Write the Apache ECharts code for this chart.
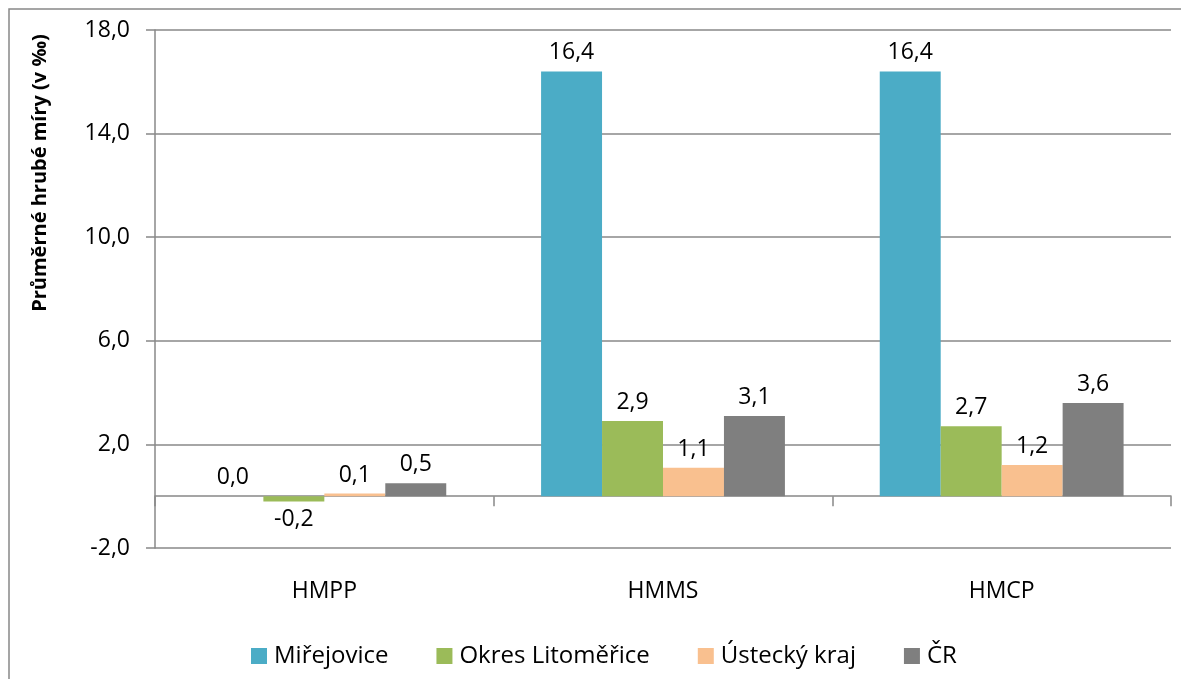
<!DOCTYPE html>
<html>
<head>
<meta charset="utf-8">
<script src="https://cdn.jsdelivr.net/npm/echarts@6/dist/echarts.min.js"></script>
<style>
  html, body { margin: 0; padding: 0; background: #fff; }
  #chart { width: 1181px; height: 679px; }
</style>
</head>
<body>
<div id="chart"></div>
<script>
// data
var categories = ['HMPP', 'HMMS', 'HMCP'];
var seriesNames = ['Miřejovice', 'Okres Litoměřice', 'Ústecký kraj', 'ČR'];
var mirejovice = [0.0, 16.4, 16.4];
var okres = [-0.2, 2.9, 2.7];
var ustecky = [0.1, 1.1, 1.2];
var cr = [0.5, 3.1, 3.6];
var yTicks = { min: -2, max: 18, interval: 4 };

var colors = ['#4BACC6', '#9BBB59', '#F9C08F', '#7F7F7F'];
var font = '"Open Sans", "Noto Sans", sans-serif';
var fs = 23;

function fmt(v) {
  return Number(v).toFixed(1).replace('.', ',');
}

// bar series, negative values get their label under the bar
function makeSeries(name, values, color) {
  return {
    name: name,
    type: 'bar',
    xAxisIndex: 0,
    barGap: '0%',
    barCategoryGap: '28%',
    itemStyle: { color: color },
    label: {
      show: true,
      position: 'top',
      distance: 7,
      color: '#000',
      fontFamily: font,
      fontSize: fs,
      formatter: function (p) { return fmt(p.value); }
    },
    data: values.map(function (v) {
      if (v < 0) {
        return { value: v, label: { position: 'bottom' } };
      }
      return v;
    })
  };
}

var chart = echarts.init(document.getElementById('chart'));
chart.setOption({
  animation: false,
  backgroundColor: '#fff',
  textStyle: { fontFamily: font },
  grid: { left: 155, right: 10, top: 30, bottom: 131 },
  legend: {
    left: 246,
    top: 639,
    icon: 'rect',
    itemWidth: 16,
    itemHeight: 16,
    itemGap: 48,
    textStyle: { fontSize: 24, color: '#000', fontFamily: font, padding: [0, 0, 0, 2] },
    data: seriesNames
  },
  graphic: [
    {
      type: 'rect',
      shape: { x: 9, y: 9, width: 1200, height: 700 },
      style: { fill: 'none', stroke: '#888', lineWidth: 1.5 },
      silent: true
    },
    {
      type: 'text',
      x: 40,
      y: 173,
      rotation: Math.PI / 2,
      style: {
        text: 'Průměrné hrubé míry (v ‰)',
        fontFamily: font,
        fontSize: 20,
        fontWeight: 'bold',
        fill: '#000',
        align: 'center',
        verticalAlign: 'middle'
      }
    }
  ],
  xAxis: [
    {
      // zero line with group separators
      type: 'category',
      data: categories,
      axisLine: { onZero: true, lineStyle: { color: '#888', width: 1.5 } },
      axisTick: { show: true, length: 10, lineStyle: { color: '#888', width: 1.5 } },
      axisLabel: { show: false },
      splitLine: { show: false }
    },
    {
      // category names at the bottom
      type: 'category',
      data: categories,
      position: 'bottom',
      axisLine: { show: false, onZero: false },
      axisTick: { show: false },
      axisLabel: { margin: 32, fontSize: fs, color: '#000', fontFamily: font }
    }
  ],
  yAxis: {
    type: 'value',
    min: yTicks.min,
    max: yTicks.max,
    interval: yTicks.interval,
    axisLine: { show: true, lineStyle: { color: '#888', width: 1.5 } },
    axisTick: { show: true, length: 9, lineStyle: { color: '#888', width: 1.5 } },
    axisLabel: {
      margin: 25,
      fontSize: fs,
      color: '#000',
      fontFamily: font,
      formatter: fmt
    },
    splitLine: { lineStyle: { color: '#888', width: 1.5 } }
  },
  series: [
    makeSeries(seriesNames[0], mirejovice, colors[0]),
    makeSeries(seriesNames[1], okres, colors[1]),
    makeSeries(seriesNames[2], ustecky, colors[2]),
    makeSeries(seriesNames[3], cr, colors[3])
  ]
});
</script>
</body>
</html>
